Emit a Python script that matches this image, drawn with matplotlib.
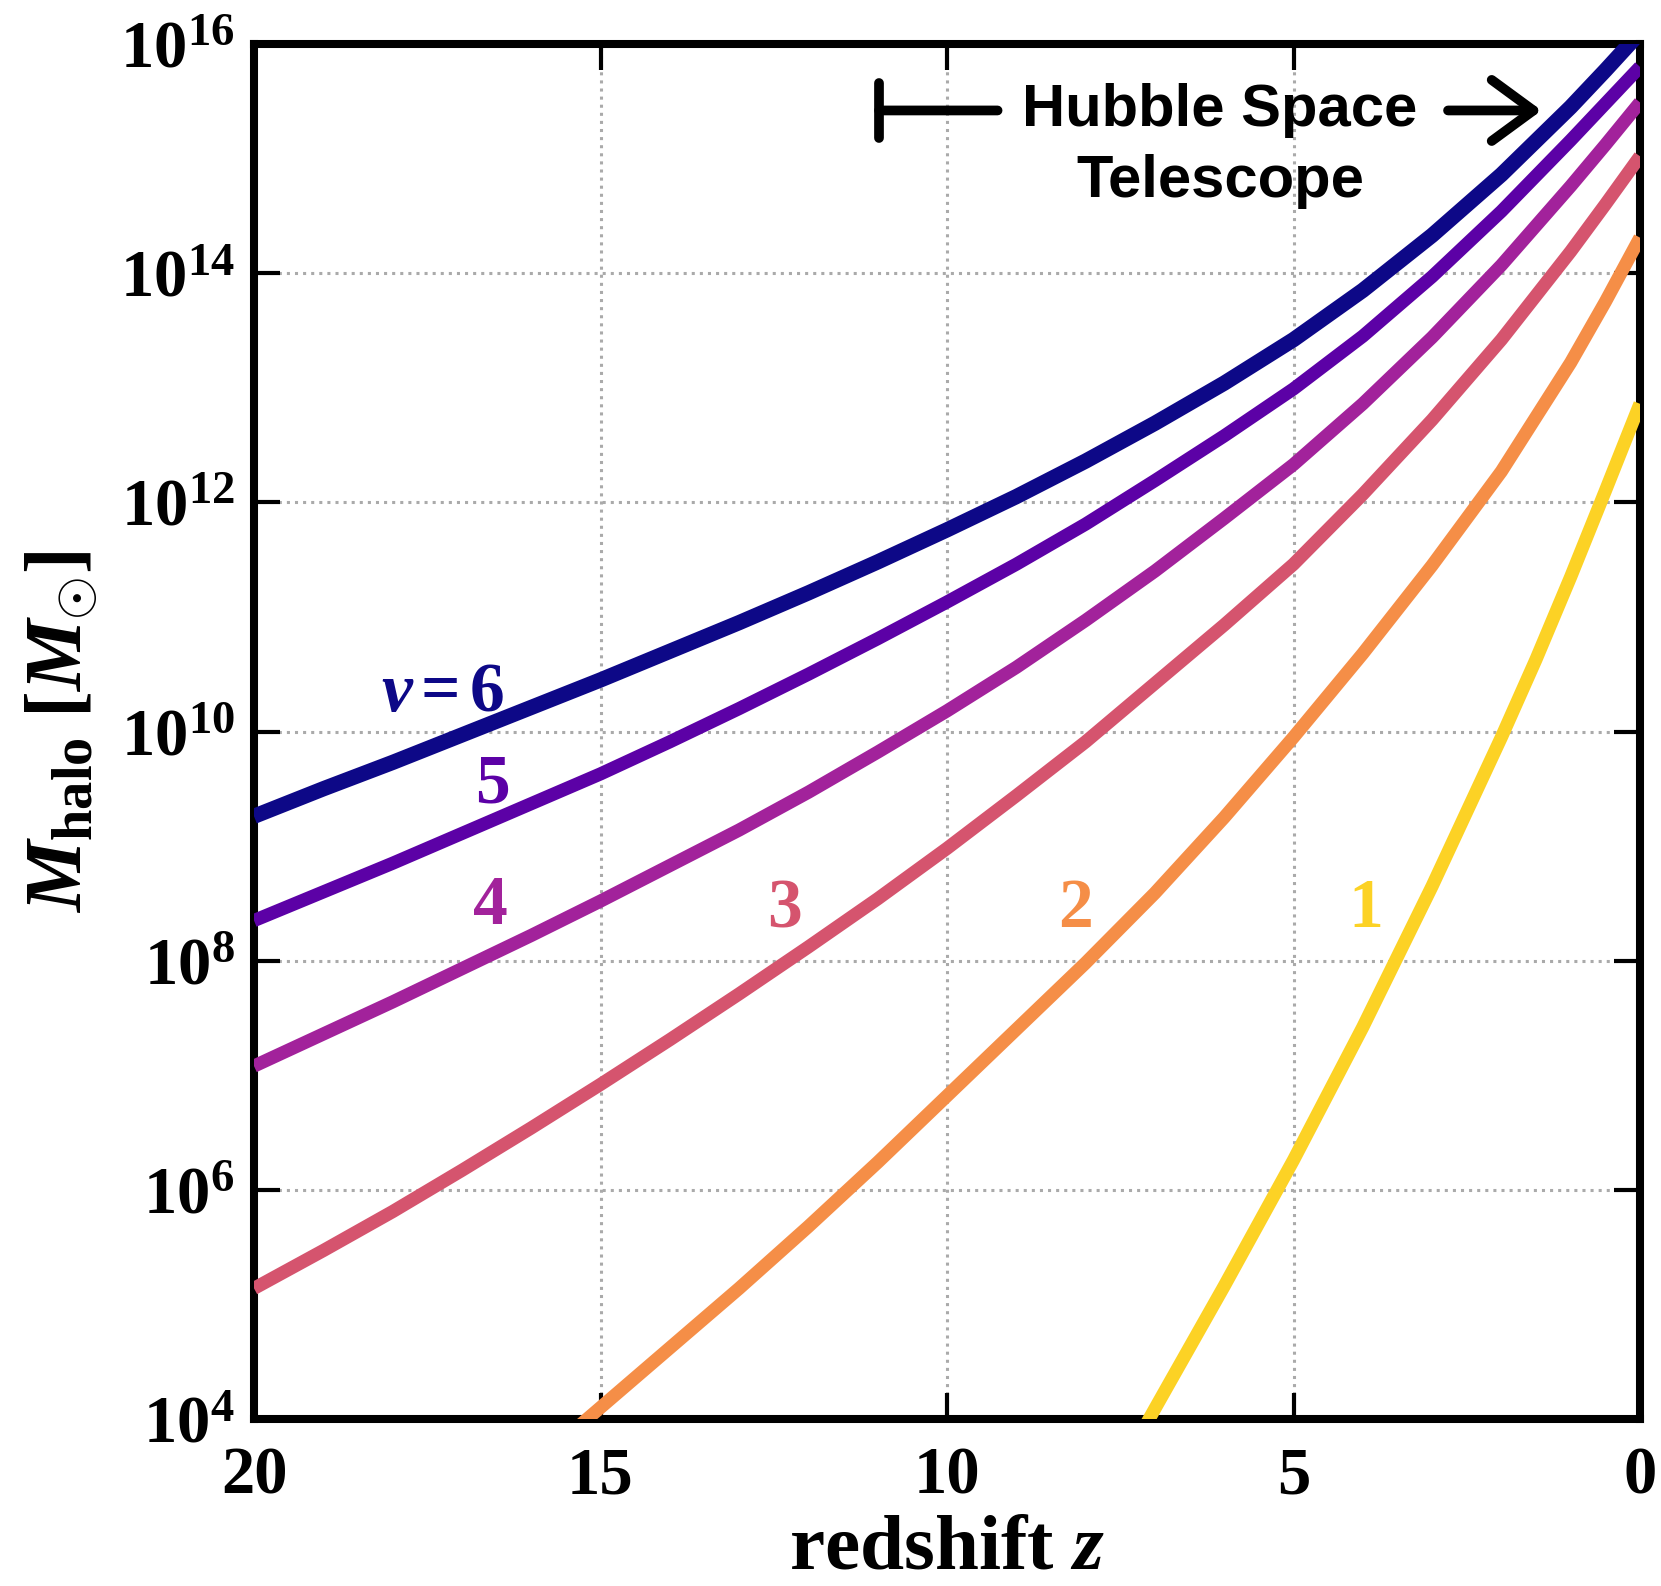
import matplotlib
matplotlib.use("Agg")
import matplotlib.pyplot as plt
import numpy as np

plt.rcParams['font.family'] = ['Liberation Serif', 'DejaVu Serif']
plt.rcParams['font.weight'] = 'bold'
plt.rcParams['mathtext.fontset'] = 'custom'
plt.rcParams['mathtext.rm'] = 'Liberation Serif:bold'
plt.rcParams['mathtext.bf'] = 'Liberation Serif:bold'
plt.rcParams['mathtext.it'] = 'Liberation Serif:italic:bold'

# ---- data (log10 of halo mass vs redshift) ----
z_hi = [20, 19, 18, 17, 16, 15, 14, 13, 12, 11, 10, 9, 8, 7, 6, 5, 4, 3, 2, 1, 0.5, 0]
logM_nu6 = [9.26, 9.50, 9.73, 9.97, 10.21, 10.45, 10.70, 10.95, 11.21, 11.48, 11.76,
            12.05, 12.36, 12.69, 13.04, 13.42, 13.85, 14.33, 14.86, 15.45, 15.77, 16.10]
logM_nu5 = [8.35, 8.60, 8.85, 9.11, 9.37, 9.63, 9.91, 10.20, 10.50, 10.81, 11.13,
            11.46, 11.81, 12.19, 12.58, 12.99, 13.45, 13.97, 14.54, 15.16, 15.48, 15.80]
logM_nu4 = [7.08, 7.36, 7.64, 7.93, 8.22, 8.52, 8.83, 9.14, 9.47, 9.82, 10.18,
            10.56, 10.97, 11.40, 11.86, 12.33, 12.86, 13.44, 14.07, 14.76, 15.12, 15.49]
logM_nu3 = [5.14, 5.47, 5.81, 6.17, 6.54, 6.92, 7.31, 7.71, 8.12, 8.54, 8.98,
            9.44, 9.91, 10.42, 10.93, 11.46, 12.07, 12.72, 13.42, 14.19, 14.60, 15.02]
z_nu2 = [16, 15, 14, 13, 12, 11, 10, 9, 8, 7, 6, 5, 4, 3, 2, 1, 0.5, 0]
logM_nu2 = [3.58, 4.10, 4.62, 5.14, 5.68, 6.24, 6.82, 7.40, 7.98, 8.59, 9.25,
            9.95, 10.68, 11.45, 12.27, 13.22, 13.75, 14.31]
z_nu1 = [7.5, 7, 6, 5, 4, 3, 2, 1.5, 1, 0.5, 0]
logM_nu1 = [3.55, 4.09, 5.16, 6.26, 7.42, 8.65, 9.95, 10.63, 11.35, 12.10, 12.86]

nu_labels = [r'$\nu\,$=$\,$6', '5', '4', '3', '2', '1']
label_z = [17.28, 16.56, 16.59, 12.35, 8.15, 3.96]
label_logM = [10.33, 9.53, 8.47, 8.44, 8.44, 8.44]
colors = ['#0d0887', '#5c01a6', '#a2229b', '#d5546e', '#f58e47', '#fcd225']

xticks = [20, 15, 10, 5, 0]
yticks_exp = [4, 6, 8, 10, 12, 14, 16]

series = [(z_hi, logM_nu6), (z_hi, logM_nu5), (z_hi, logM_nu4),
          (z_hi, logM_nu3), (z_nu2, logM_nu2), (z_nu1, logM_nu1)]
widths = [11, 9.5, 9.5, 9.5, 9.5, 9.5]

fig = plt.figure(figsize=(16.61, 15.86), dpi=100)
ax = fig.add_axes([254/1661, 1-1419/1586, 1386/1661, 1375/1586])

for (zz, lm), c, w in zip(series, colors, widths):
    ax.plot(zz, 10**np.array(lm), color=c, lw=w, solid_capstyle='butt',
            solid_joinstyle='round', zorder=3)

for t, zl, ml, c in zip(nu_labels, label_z, label_logM, colors):
    ax.text(zl, 10**ml, t, color=c, fontsize=50, ha='center', va='center',
            fontweight='bold', zorder=4)

ax.set_yscale('log')
ax.set_xlim(20, 0)
ax.set_ylim(1e4, 1e16)
ax.set_xticks(xticks)
ax.set_xticklabels([str(t) for t in xticks])
ax.set_yticks([10.0**e for e in yticks_exp])
ax.set_yticklabels([r'$10^{%d}$' % e for e in yticks_exp])
ax.minorticks_off()
ax.tick_params(axis='both', which='major', direction='in', length=19, width=3,
               top=True, right=True, labelsize=48)
ax.tick_params(axis='x', pad=20)
ax.tick_params(axis='y', pad=14)
for sp in ax.spines.values():
    sp.set_linewidth(5.8)
ax.grid(True, which='major', color='#aaaaaa', linestyle=':', lw=2.2, zorder=1)

ax.set_xlabel(r'redshift $z$', fontsize=57, fontweight='bold', labelpad=5)
ax.set_ylabel(r'$M_{\rm halo}\;[M_{\odot}]$', fontsize=58, labelpad=14)

# Hubble annotation
ax.annotate('', xy=(9.27, 10**15.42), xytext=(10.98, 10**15.42),
            arrowprops=dict(arrowstyle='|-|,widthA=1.0,widthB=0', lw=7,
                            mutation_scale=20, color='black', shrinkA=0, shrinkB=0))
ax.annotate('', xy=(1.42, 10**15.42), xytext=(2.77, 10**15.42),
            arrowprops=dict(arrowstyle='->,head_length=1.5,head_width=1.1', lw=7,
                            mutation_scale=20, color='black', shrinkA=0, shrinkB=0))
ax.text(6.06, 10**15.42, 'Hubble Space', fontsize=43, family='Liberation Sans',
        fontweight='bold', ha='center', va='center')
ax.text(6.06, 10**14.80, 'Telescope', fontsize=43, family='Liberation Sans',
        fontweight='bold', ha='center', va='center')

fig.savefig('out.png', dpi=100)
